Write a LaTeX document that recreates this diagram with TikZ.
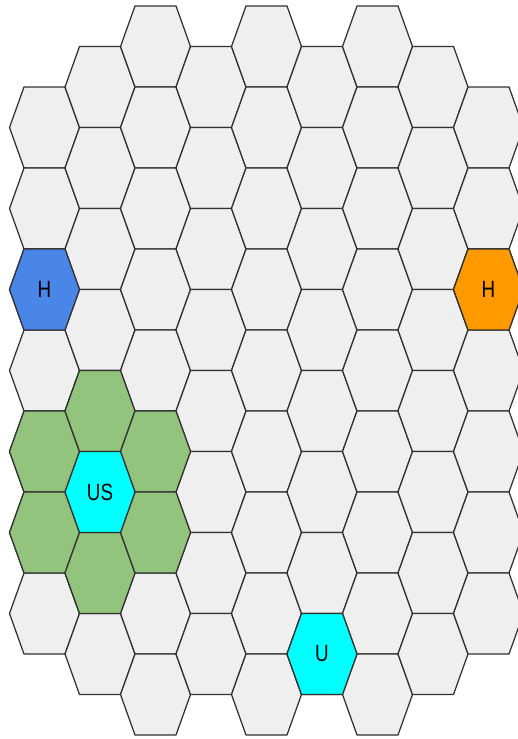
\documentclass[tikz,border=0pt]{standalone}
\usepackage{fontspec}
\setmainfont{Liberation Sans}
\usetikzlibrary{calc}
\definecolor{cellgrey}{RGB}{239,239,239}
\definecolor{cellline}{RGB}{50,50,50}
\definecolor{homeblue}{RGB}{74,134,232}
\definecolor{homeorange}{RGB}{255,153,0}
\definecolor{zonegreen}{RGB}{147,196,125}
\definecolor{unitcyan}{RGB}{0,255,255}

\begin{document}
\begin{tikzpicture}[x=1pt, y=-1pt,
    cell/.style={draw=cellline, line width=1.25pt, line join=round, fill=#1},
    cell/.default=cellgrey,
    hex/.pic={\path[pic actions] (-35,0) -- (-20.5,-40.5) -- (20.5,-40.5)
        -- (35,0) -- (20.5,40.5) -- (-20.5,40.5) -- cycle;},
    tag/.style={font=\fontsize{23.5}{23.5}\selectfont, xscale=0.8, inner sep=0pt}
]
    \useasboundingbox (0,0) rectangle (518,739);
    \clip (0,0) rectangle (518,739);

    % board: column / first row / last row
    \foreach \c/\rfirst/\rlast in {0/1/7, 1/0/7, 2/0/8, 3/0/7, 4/0/8,
                                   5/0/7, 6/0/8, 7/0/7, 8/1/7} {
        \foreach \r in {\rfirst,...,\rlast} {
            \pgfmathsetmacro\cx{44.5+55.5*\c}
            \pgfmathsetmacro\cy{46.5+81*\r+40.5*mod(\c,2)}
            \coordinate (h\c-\r) at (\cx,\cy);
            \pic[cell] at (h\c-\r) {hex};
        }
    }

    % coloured cells
    \foreach \c/\r/\col in {0/3/homeblue, 8/3/homeorange,
                            0/5/zonegreen, 0/6/zonegreen, 1/4/zonegreen, 1/6/zonegreen,
                            2/5/zonegreen, 2/6/zonegreen,
                            1/5/unitcyan, 5/7/unitcyan}
        \pic[cell=\col] at (h\c-\r) {hex};

    \node[tag] (home1) at (h0-3) {H};
    \node[tag] (home2) at (h8-3) {H};
    \node[tag] (unit1) at (h1-5) {US};
    \node[tag] (unit2) at (h5-7) {U};
\end{tikzpicture}
\end{document}
